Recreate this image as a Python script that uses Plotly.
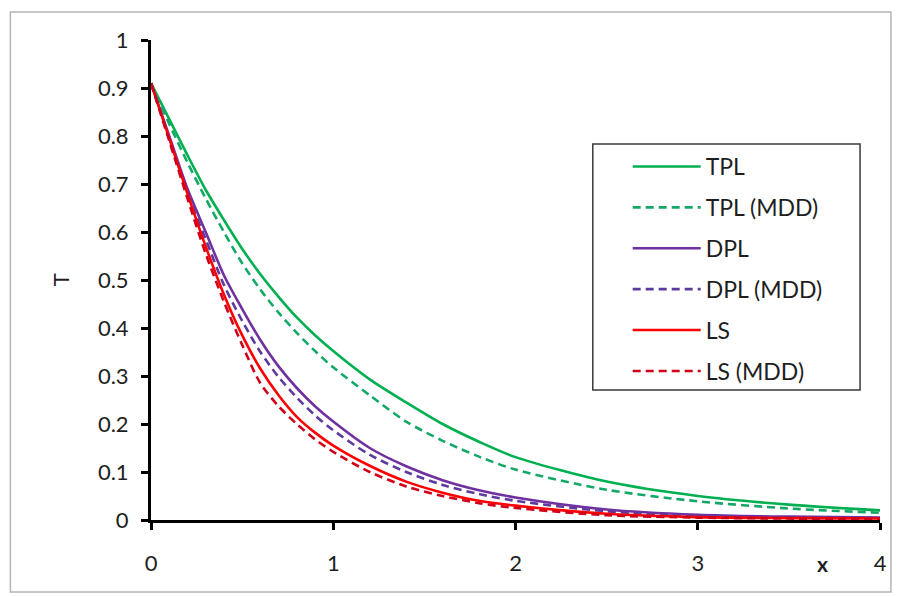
import plotly.graph_objects as go

# Temperature profiles T(x) for the three heat-conduction models
x_vals = [0, 0.1, 0.2, 0.3, 0.4, 0.5, 0.6, 0.7, 0.8, 0.9, 1.0, 1.2, 1.4, 1.6, 1.8, 2.0, 2.5, 3.0, 3.5, 4.0]

tpl = [0.91, 0.835, 0.76, 0.688, 0.625, 0.565, 0.512, 0.465, 0.422, 0.385, 0.352, 0.293, 0.245, 0.2, 0.163, 0.131, 0.08, 0.05, 0.032, 0.02]
tpl_mdd = [0.91, 0.825, 0.745, 0.67, 0.6, 0.535, 0.48, 0.432, 0.39, 0.352, 0.318, 0.26, 0.205, 0.165, 0.132, 0.105, 0.063, 0.039, 0.024, 0.015]
dpl = [0.91, 0.8, 0.69, 0.6, 0.51, 0.44, 0.375, 0.32, 0.275, 0.237, 0.205, 0.15, 0.112, 0.083, 0.062, 0.047, 0.022, 0.011, 0.007, 0.005]
dpl_mdd = [0.91, 0.795, 0.68, 0.585, 0.49, 0.415, 0.35, 0.298, 0.255, 0.218, 0.187, 0.136, 0.1, 0.073, 0.054, 0.04, 0.018, 0.009, 0.005, 0.004]
ls = [0.91, 0.795, 0.68, 0.57, 0.47, 0.385, 0.315, 0.26, 0.215, 0.182, 0.155, 0.113, 0.08, 0.057, 0.04, 0.03, 0.013, 0.006, 0.004, 0.003]
ls_mdd = [0.91, 0.79, 0.67, 0.555, 0.455, 0.365, 0.285, 0.237, 0.2, 0.168, 0.142, 0.1, 0.07, 0.05, 0.035, 0.025, 0.01, 0.005, 0.003, 0.002]

series = [
    ("TPL", tpl, "#00B050", "solid"),
    ("TPL (MDD)", tpl_mdd, "#14A866", "8px,5px"),
    ("DPL", dpl, "#7030A0", "solid"),
    ("DPL (MDD)", dpl_mdd, "#5E3A9E", "8px,5px"),
    ("LS", ls, "#FF0000", "solid"),
    ("LS (MDD)", ls_mdd, "#D0001A", "8px,5px"),
]

x_ticks = [0, 1, 2, 3, 4]
y_ticks = [0, 0.1, 0.2, 0.3, 0.4, 0.5, 0.6, 0.7, 0.8, 0.9, 1]

FONT = "Lato"
TEXT = "#1e1e1e"

# plot area in pixels: x 151..882, y 40..520
def px_x(p):
    return (p - 151) / 731

def px_y(p):
    return (520 - p) / 480

fig = go.Figure()
for i, (name, ys, color, dash) in enumerate(series):
    fig.add_trace(go.Scatter(
        x=x_vals, y=ys, name=name, mode="lines",
        line=dict(color=color, width=2.6, dash=dash, shape="spline", smoothing=0.8),
        legendgroup=f"g{i}",
    ))

fig.update_layout(
    width=899, height=596,
    margin=dict(l=151, r=17, t=40, b=76),
    paper_bgcolor="white", plot_bgcolor="white",
    font=dict(family=FONT, size=22, color=TEXT),
    showlegend=True,
    legend=dict(
        x=px_x(629), y=px_y(145), xanchor="left", yanchor="top",
        borderwidth=0, bgcolor="rgba(0,0,0,0)",
        font=dict(family=FONT, size=23, color=TEXT),
        tracegroupgap=8, itemwidth=68,
    ),
    xaxis=dict(
        range=[0, 4], tickvals=x_ticks, showgrid=False, zeroline=False,
        showline=True, linecolor="black", linewidth=3,
        ticks="outside", ticklen=7, tickwidth=3, tickcolor="black",
        ticklabelstandoff=15,
    ),
    yaxis=dict(
        range=[0, 1], tickvals=y_ticks, showgrid=False, zeroline=False,
        showline=True, linecolor="black", linewidth=3,
        ticks="outside", ticklen=7, tickwidth=3, tickcolor="black",
        ticklabelstandoff=8,
    ),
    shapes=[
        # outer frame
        dict(type="rect", xref="paper", yref="paper",
             x0=px_x(10), x1=px_x(893), y0=px_y(592), y1=px_y(12),
             line=dict(color="#B4B4B4", width=1.5), fillcolor="rgba(0,0,0,0)", layer="below"),
        # legend box
        dict(type="rect", xref="paper", yref="paper",
             x0=px_x(594), x1=px_x(862), y0=px_y(390), y1=px_y(144),
             line=dict(color="#3a3a3a", width=1.5), fillcolor="white", layer="above"),
    ],
    annotations=[
        dict(text="<b>x</b>", xref="paper", yref="paper", x=px_x(824), y=px_y(563),
             showarrow=False, font=dict(family=FONT, size=21, color=TEXT), xanchor="center", yanchor="middle"),
        dict(text="T", xref="paper", yref="paper", x=px_x(60), y=px_y(280),
             showarrow=False, textangle=-90, font=dict(family=FONT, size=22, color=TEXT),
             xanchor="center", yanchor="middle"),
    ],
)

fig.write_html("out.html")
